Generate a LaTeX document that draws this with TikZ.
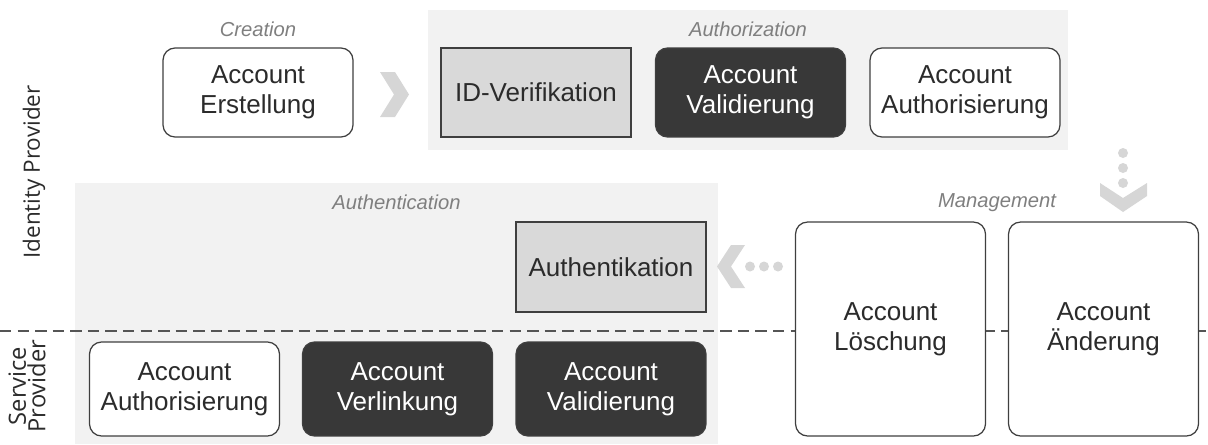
\documentclass[tikz,border=0pt]{standalone}
\usepackage{fontspec}
\setmainfont{Liberation Sans}
\newfontfamily\sidefont{Open Sans}
\usetikzlibrary{positioning}
\definecolor{phasebg}{HTML}{F2F2F2}
\definecolor{boxline}{HTML}{3F3F3F}
\definecolor{boxtext}{HTML}{2B2B2B}
\definecolor{darkbox}{HTML}{383838}
\definecolor{greybox}{HTML}{D9D9D9}
\definecolor{phaselabel}{HTML}{7F7F7F}
\definecolor{hintgrey}{HTML}{D6D6D6}
\definecolor{sepline}{HTML}{555555}

\begin{document}
\begin{tikzpicture}[
  x=0.02cm,
  y=-0.02cm,
  box/.style={
    draw=boxline,
    line width=0.7pt,
    text=boxtext,
    align=center,
    inner sep=0pt,
    font=\fontsize{14.8}{16.8}\selectfont,
    minimum width=3.8cm,
    minimum height=1.78cm
  },
  plainbox/.style={box,rounded corners=0.24cm,fill=white},
  darkbx/.style={box,rounded corners=0.24cm,fill=darkbox,text=white},
  greybx/.style={box,fill=greybox},
  phase/.style={text=phaselabel,font=\itshape\fontsize{11.5}{13}\selectfont},
  side/.style={rotate=90,align=center,text=boxtext,font=\sidefont\fontsize{12.8}{12}\selectfont},
  hint/.style={fill=hintgrey}
]
  \useasboundingbox (0,0) rectangle (1208,444);

  % phase areas
  \fill[phasebg] (428,10) rectangle (1068,150);
  \fill[phasebg] (75,183) rectangle (718,444);

  % separation IdP / SP
  \coordinate (sepL) at (0,331);
  \coordinate (sepR) at (1208,331);
  \draw[sepline,line width=0.7pt,dash pattern=on 6.5pt off 3.5pt] (sepL) -- (sepR);

  % creation
  \node[phase] (creation) at (258,29) {Creation};
  \node[plainbox] (erst) at (258,92.5) {Account\\Erstellung};

  % authorization
  \node[phase] (authz) at (748,29) {Authorization};
  \node[greybx] (idver) at (536,92.5) {ID-Verifikation};
  \node[darkbx] (idpval) at (750.5,92.5) {Account\\Validierung};
  \node[plainbox] (idpauth) at (965,92.5) {Account\\Authorisierung};

  % authentication
  \node[phase] (authn) at (396.5,202) {Authentication};
  \node[greybx,minimum height=1.8cm] (authk) at (611,267) {Authentikation};
  \node[plainbox,minimum height=1.88cm] (spauth) at (184.5,389) {Account\\Authorisierung};
  \node[darkbx,minimum height=1.88cm] (splink) at (397.5,389) {Account\\Verlinkung};
  \node[darkbx,minimum height=1.88cm] (spval) at (611,389) {Account\\Validierung};

  % management
  \node[phase] (mgmt) at (997,203) {Management};
  \node[plainbox,minimum height=4.28cm] (loesch) at (890.5,329) {Account\\Löschung};
  \node[plainbox,minimum height=4.28cm] (aender) at (1103.5,329) {Account\\Änderung};

  % flow hints
  \fill[hint] (380,72) -- (395,72) -- (409,94.5) -- (395,117) -- (380,117) -- (394,94.5) -- cycle;

  \fill[hint] (1123,153) circle[radius=0.1cm];
  \fill[hint] (1123,168) circle[radius=0.1cm];
  \fill[hint] (1123,183) circle[radius=0.1cm];
  \fill[hint] (1100,183) -- (1123,198) -- (1147,183) -- (1147,196) -- (1123,212) -- (1100,196) -- cycle;

  \fill[hint] (731,245) -- (745,245) -- (731,266.5) -- (745,288) -- (731,288) -- (717,266.5) -- cycle;
  \fill[hint] (750,266.5) circle[radius=0.1cm];
  \fill[hint] (764,266.5) circle[radius=0.1cm];
  \fill[hint] (778,266.5) circle[radius=0.1cm];

  % roles
  \node[side] (idp) at (34,172) {Identity Provider};
  \node[side,font=\sidefont\fontsize{13.5}{11}\selectfont] (sp) at (27,386) {Service\\Provider};
\end{tikzpicture}
\end{document}
